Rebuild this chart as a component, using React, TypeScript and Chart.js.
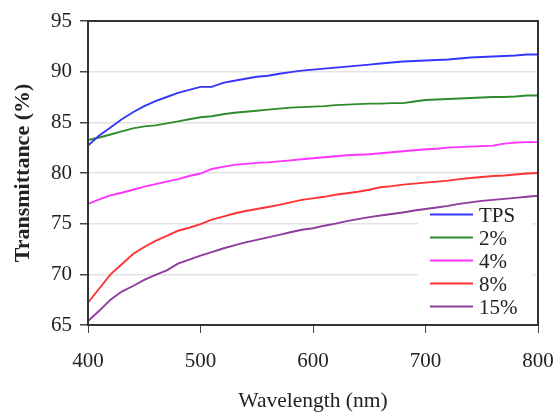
import React, { useEffect, useRef } from "react";
import { Chart, registerables } from "chart.js";

Chart.register(...registerables);

const wavelengths = [
  400, 410, 420, 430, 440, 450, 460, 470, 480, 490, 500, 510, 520, 530, 540, 550, 560, 570, 580, 590,
  600, 610, 620, 630, 640, 650, 660, 670, 680, 690, 700, 710, 720, 730, 740, 750, 760, 770, 780, 790, 800,
];

const tps = [
  82.7, 83.7, 84.5, 85.3, 86.0, 86.6, 87.1, 87.5, 87.9, 88.2, 88.5, 88.5, 88.9, 89.1, 89.3, 89.5, 89.6, 89.8, 89.95, 90.1,
  90.2, 90.3, 90.4, 90.5, 90.6, 90.7, 90.8, 90.9, 91.0, 91.05, 91.1, 91.15, 91.2, 91.3, 91.4, 91.45, 91.5, 91.55, 91.6, 91.7, 91.7,
];

const pct2 = [
  83.25, 83.5, 83.8, 84.1, 84.4, 84.6, 84.7, 84.9, 85.1, 85.3, 85.5, 85.6, 85.8, 85.95, 86.05, 86.15, 86.25, 86.35, 86.45, 86.5,
  86.55, 86.6, 86.7, 86.75, 86.8, 86.85, 86.85, 86.9, 86.9, 87.05, 87.2, 87.25, 87.3, 87.35, 87.4, 87.45, 87.5, 87.5, 87.55, 87.65, 87.65,
];

const pct4 = [
  76.95, 77.4, 77.8, 78.05, 78.35, 78.65, 78.9, 79.15, 79.4, 79.7, 79.95, 80.4, 80.6, 80.8, 80.9, 81.0, 81.05, 81.15, 81.25, 81.35,
  81.45, 81.55, 81.65, 81.75, 81.8, 81.85, 81.95, 82.05, 82.15, 82.25, 82.35, 82.4, 82.5, 82.55, 82.6, 82.65, 82.7, 82.9, 83.0, 83.05, 83.05,
];

const pct8 = [
  67.2, 68.6, 70.0, 71.0, 72.0, 72.7, 73.3, 73.8, 74.3, 74.6, 74.95, 75.4, 75.7, 76.0, 76.25, 76.45, 76.65, 76.85, 77.1, 77.35,
  77.5, 77.65, 77.85, 78.0, 78.15, 78.35, 78.6, 78.7, 78.85, 78.95, 79.05, 79.15, 79.25, 79.4, 79.5, 79.6, 79.7, 79.75, 79.85, 79.95, 80.0,
];

const pct15 = [
  65.4, 66.4, 67.5, 68.3, 68.85, 69.45, 69.95, 70.4, 71.05, 71.45, 71.85, 72.2, 72.55, 72.85, 73.15, 73.4, 73.65, 73.9, 74.15, 74.4,
  74.55, 74.8, 75.0, 75.25, 75.45, 75.65, 75.8, 75.95, 76.1, 76.3, 76.45, 76.6, 76.75, 76.95, 77.1, 77.25, 77.35, 77.45, 77.55, 77.65, 77.75,
];

const seriesLabels = ["TPS", "2%", "4%", "8%", "15%"];
const seriesValues = [tps, pct2, pct4, pct8, pct15];
const seriesColors = ["#3535ff", "#2e8b2e", "#ff33ff", "#ff3333", "#8e3a9e"];

const xTicks = [400, 500, 600, 700, 800];
const yTicks = [65, 70, 75, 80, 85, 90, 95];

const xTitle = "Wavelength (nm)";
const yTitle = "Transmittance (%)";

const FONT = "'Liberation Serif', 'Times New Roman', Times, serif";

const insideLegend = {
  id: "insideLegend",
  beforeDatasetsDraw(chart: any) {
    const { ctx, chartArea } = chart;
    const { right, top, bottom } = chartArea;
    const boxLeft = right - 120;
    const boxTop = top + 182;
    ctx.save();
    ctx.fillStyle = "#ffffff";
    ctx.fillRect(boxLeft, boxTop, 114, bottom - 3 - boxTop);
    ctx.restore();
  },
  afterDatasetsDraw(chart: any) {
    const { ctx, chartArea } = chart;
    const { right, top } = chartArea;
    ctx.save();
    ctx.font = `21px ${FONT}`;
    ctx.textBaseline = "middle";
    ctx.textAlign = "left";
    chart.data.datasets.forEach((ds: any, i: number) => {
      const y = top + 193.5 + i * 23;
      ctx.strokeStyle = ds.borderColor;
      ctx.lineWidth = 2;
      ctx.beginPath();
      ctx.moveTo(right - 108, y);
      ctx.lineTo(right - 65, y);
      ctx.stroke();
      ctx.fillStyle = "#222";
      ctx.fillText(ds.label, right - 59, y + 1.5);
    });
    ctx.restore();
  },
};

const frame = {
  id: "frame",
  afterDatasetsDraw(chart: any) {
    const { ctx, chartArea } = chart;
    const { left, top, right, bottom } = chartArea;
    ctx.save();
    ctx.strokeStyle = "#333";
    ctx.lineWidth = 2;
    ctx.strokeRect(left, top, right - left, bottom - top);
    ctx.restore();
  },
};

export default function App() {
  const canvasRef = useRef<HTMLCanvasElement | null>(null);

  useEffect(() => {
    document.body.style.margin = "0";
    const canvas = canvasRef.current;
    if (!canvas) return;
    const chart = new Chart(canvas, {
      type: "line",
      data: {
        datasets: seriesLabels.map((label, i) => ({
          label,
          data: wavelengths.map((w, j) => ({ x: w, y: seriesValues[i][j] })),
          borderColor: seriesColors[i],
          backgroundColor: seriesColors[i],
          borderWidth: 1.9,
          pointRadius: 0,
          tension: 0,
          fill: false,
        })),
      },
      options: {
        responsive: false,
        animation: false,
        devicePixelRatio: 1,
        layout: { padding: { left: 0, top: 21, right: 19, bottom: 0 } },
        plugins: {
          legend: { display: false },
          tooltip: { enabled: false },
        },
        scales: {
          x: {
            type: "linear",
            min: 400,
            max: 800,
            afterBuildTicks: (scale: any) => {
              scale.ticks = xTicks.map((v) => ({ value: v }));
            },
            afterFit: (scale: any) => {
              scale.height = 91;
              scale.paddingLeft = 0;
              scale.paddingRight = 0;
            },
            grid: {
              color: "rgba(0,0,0,0)",
              tickColor: "#444",
              tickLength: 8,
              drawTicks: true,
            },
            border: { color: "#333", width: 2 },
            ticks: {
              color: "#222",
              padding: 16,
              maxRotation: 0,
              font: { family: FONT, size: 21 },
            },
            title: {
              display: true,
              text: xTitle,
              color: "#222",
              padding: { top: 0, bottom: 1.5 },
              font: { family: FONT, size: 21.5 },
            },
          },
          y: {
            type: "linear",
            min: 65,
            max: 95,
            afterBuildTicks: (scale: any) => {
              scale.ticks = yTicks.map((v) => ({ value: v }));
            },
            afterFit: (scale: any) => {
              scale.width = 88;
            },
            grid: {
              color: (ctx: any) =>
                ctx.tick && (ctx.tick.value === 65 || ctx.tick.value === 95) ? "rgba(0,0,0,0)" : "#e3e3e3",
              tickColor: "#444",
              tickLength: 8,
              lineWidth: 1.5,
              drawTicks: true,
            },
            border: { color: "#333", width: 2 },
            ticks: {
              color: "#222",
              padding: 8,
              font: { family: FONT, size: 21 },
            },
            title: {
              display: true,
              text: yTitle,
              color: "#222",
              padding: { top: 10, bottom: 0 },
              font: { family: FONT, size: 22, weight: "bold" },
            },
          },
        },
      },
      plugins: [insideLegend, frame],
    });
    return () => chart.destroy();
  }, []);

  return (
    <div style={{ width: 557, height: 416 }}>
      <canvas ref={canvasRef} width={557} height={416} style={{ display: "block" }} />
    </div>
  );
}
